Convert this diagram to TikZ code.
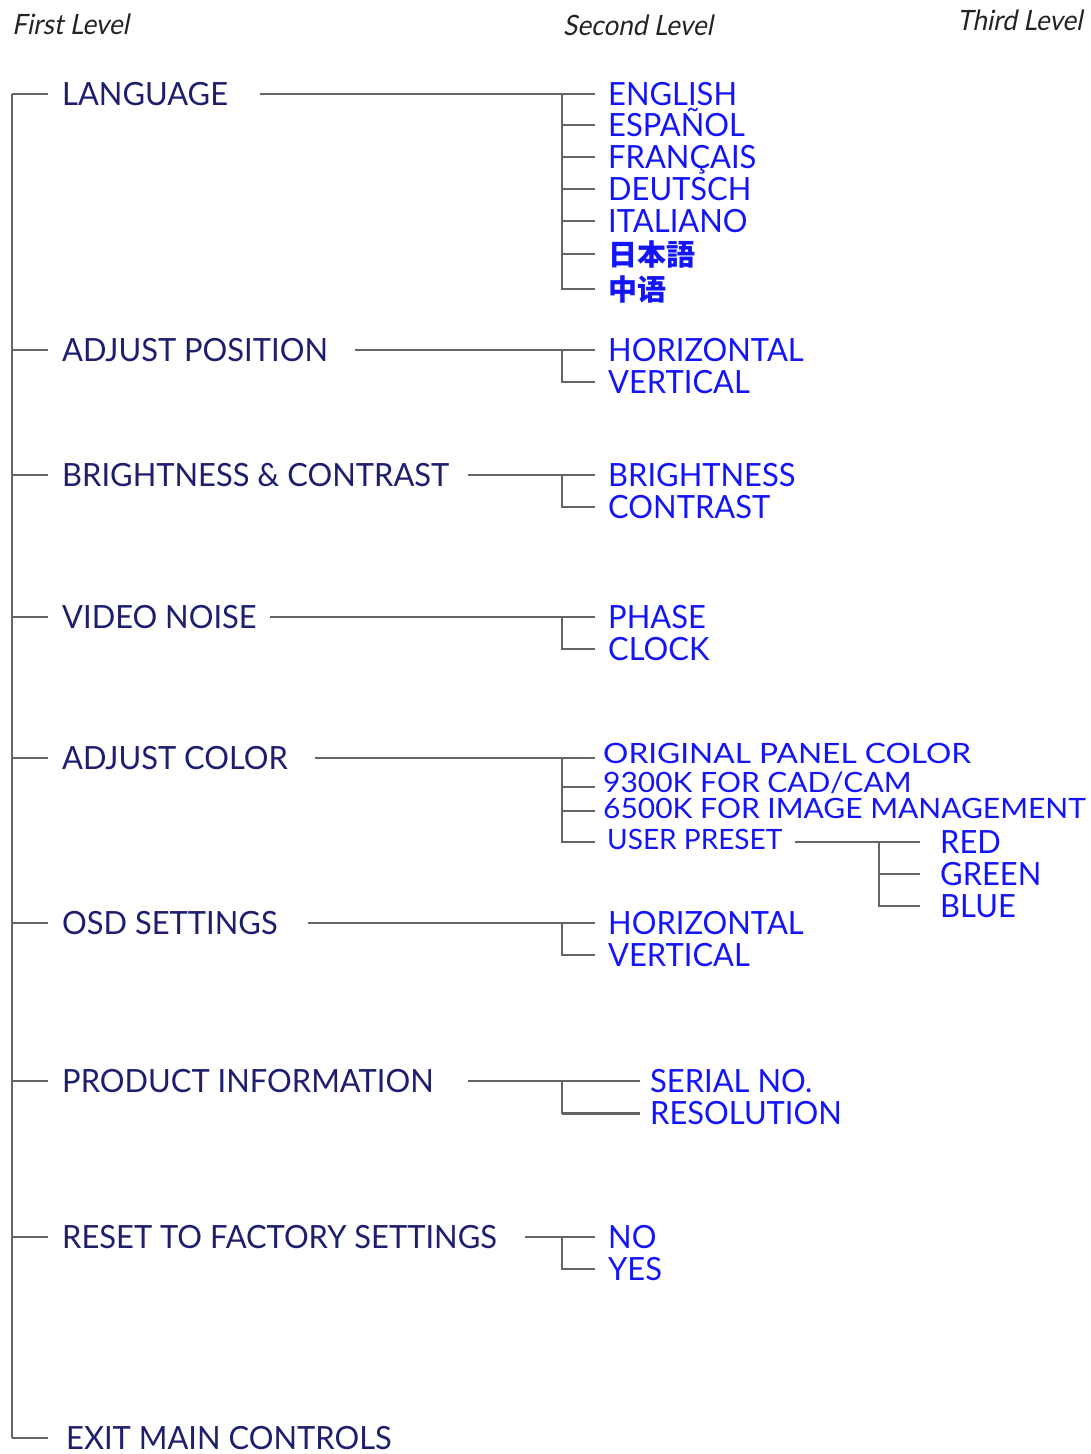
\documentclass[tikz,border=0pt]{standalone}
\usepackage{fontspec}
\setmainfont[FakeStretch=0.965]{Lato}
\newfontfamily\widefont[FakeStretch=1.07]{Lato}
\newfontfamily\widerfont[FakeStretch=1.13]{Lato}
\newfontfamily\plainfont{Lato}
\newfontfamily\hdrfont[FakeStretch=0.93,FakeSlant=0.2]{Lato}
\newfontfamily\jpfont{Noto Sans CJK JP}
\newfontfamily\scfont{Noto Sans CJK SC}
\definecolor{lvone}{RGB}{30,30,110}
\definecolor{lvtwo}{RGB}{20,20,250}
\definecolor{lnc}{RGB}{100,100,100}
\definecolor{hdrc}{RGB}{35,35,35}
\begin{document}
\begin{tikzpicture}[x=1pt,y=-1pt,
  ln/.style={draw=lnc, line width=1.8pt},
  one/.style={inner sep=0pt, anchor=west, text height=23pt, text depth=0pt, text=lvone, font=\fontsize{32}{36}\selectfont},
  two/.style={one, text=lvtwo},
  twos/.style={two, text height=20pt, font=\widefont\fontsize{28}{32}\selectfont},
  cjk/.style={two, font=\fontsize{29}{32}\selectfont\bfseries},
  hdr/.style={inner sep=0pt, anchor=west, text=hdrc, text height=20pt, text depth=0pt, font=\hdrfont\fontsize{28}{32}\selectfont}]
\useasboundingbox (0,0) rectangle (1091,1454);
% headers
\node[hdr] (h1) at (12,24) {First Level};
\node[hdr] (h2) at (563,25) {Second Level};
\node[hdr] (h3) at (957,20) {Third Level};
% first level
\node[one] (lang) at (62,94) {LANGUAGE};
\node[one] (pos) at (62,350) {ADJUST POSITION};
\node[one] (bc) at (62,475) {BRIGHTNESS \& CONTRAST};
\node[one] (vn) at (62,617) {VIDEO NOISE};
\node[one] (ac) at (62,758) {ADJUST COLOR};
\node[one] (osd) at (62,923) {OSD SETTINGS};
\node[one] (pi) at (62,1081) {PRODUCT INFORMATION};
\node[one] (rf) at (62,1237) {RESET TO FACTORY SETTINGS};
\node[one] (ex) at (66,1438) {EXIT MAIN CONTROLS};
% trunk
\coordinate (T0) at (12,94);
\coordinate (T9) at (12,1438);
\draw[ln] (T0) -- (T9);
\foreach \n in {lang,pos,bc,vn,ac,osd,pi,rf,ex}
  \draw[ln] (\n.west -| T0) -- ++(36,0);
% second level
\node[two] (eng) at (608,94) {ENGLISH};
\node[two] (esp) at (608,125) {ESPAÑOL};
\node[two] (fra) at (608,157) {FRANÇAIS};
\node[two] (deu) at (608,189) {DEUTSCH};
\node[two] (ita) at (608,221) {ITALIANO};
\node[cjk] (jpn) at (608,254) {\jpfont\bfseries 日本語};
\node[cjk] (chn) at (608,289) {\scfont\bfseries 中语};
\node[two] (ph) at (608,350) {HORIZONTAL};
\node[two] (pv) at (608,382) {VERTICAL};
\node[two] (bb) at (608,475) {BRIGHTNESS};
\node[two] (bcn) at (608,507) {CONTRAST};
\node[two] (vp) at (608,617) {PHASE};
\node[two] (vc) at (608,649) {CLOCK};
\node[twos, font=\widerfont\fontsize{28}{32}\selectfont] (c1) at (603,753) {ORIGINAL PANEL COLOR};
\node[twos] (c2) at (603,782) {9300K FOR CAD/CAM};
\node[twos] (c3) at (603,808) {6500K FOR IMAGE MANAGEMENT};
\node[twos, font=\plainfont\fontsize{28}{32}\selectfont] (c4) at (607,839) {USER PRESET};
\node[two] (oh) at (608,923) {HORIZONTAL};
\node[two] (ov) at (608,955) {VERTICAL};
\node[two] (sn) at (650,1081) {SERIAL NO.};
\node[two] (res) at (650,1113) {RESOLUTION};
\node[two] (no) at (608,1237) {NO};
\node[two] (yes) at (608,1269) {YES};
% third level
\node[two] (red) at (940,842) {RED};
\node[two] (grn) at (940,874) {GREEN};
\node[two] (blu) at (940,906) {BLUE};
% tick end columns
\coordinate (E) at (595,0);
\coordinate (EP) at (640,0);
\coordinate (E3) at (920,0);
% group 1
\coordinate (S1) at (260,94); \coordinate (B1) at (562,94);
\draw[ln] (S1) -- (B1);
\foreach \n in {eng,esp,fra,deu,ita,jpn,chn} \draw[ln] (B1) |- (\n.west -| E);
% group 2
\coordinate (S2) at (355,350); \coordinate (B2) at (562,350);
\draw[ln] (S2) -- (B2);
\foreach \n in {ph,pv} \draw[ln] (B2) |- (\n.west -| E);
% group 3
\coordinate (S3) at (468,475); \coordinate (B3) at (562,475);
\draw[ln] (S3) -- (B3);
\foreach \n in {bb,bcn} \draw[ln] (B3) |- (\n.west -| E);
% group 4
\coordinate (S4) at (270,617); \coordinate (B4) at (562,617);
\draw[ln] (S4) -- (B4);
\foreach \n in {vp,vc} \draw[ln] (B4) |- (\n.west -| E);
% group 5
\coordinate (S5) at (315,758); \coordinate (B5) at (562,758);
\coordinate (K1) at (595,758); \coordinate (K2) at (595,787);
\coordinate (K3) at (595,811); \coordinate (K4) at (595,842);
\draw[ln] (S5) -- (B5);
\foreach \k in {K1,K2,K3,K4} \draw[ln] (B5) |- (\k);
\coordinate (U1) at (795,842); \coordinate (U2) at (879,842);
\draw[ln] (U1) -- (U2);
\foreach \n in {red,grn,blu} \draw[ln] (U2) |- (\n.west -| E3);
% group 6
\coordinate (S6) at (308,923); \coordinate (B6) at (562,923);
\draw[ln] (S6) -- (B6);
\foreach \n in {oh,ov} \draw[ln] (B6) |- (\n.west -| E);
% group 7
\coordinate (S7) at (468,1081); \coordinate (B7) at (562,1081);
\draw[ln] (S7) -- (B7);
\draw[ln] (B7) |- (sn.west -| EP);
\draw[ln] (B7) |- (res.west -| EP);
\draw[draw=lnc, line width=3pt] (res.west -| B7) -- (res.west -| EP);
% group 8
\coordinate (S8) at (525,1237); \coordinate (B8) at (562,1237);
\draw[ln] (S8) -- (B8);
\foreach \n in {no,yes} \draw[ln] (B8) |- (\n.west -| E);
\end{tikzpicture}
\end{document}
